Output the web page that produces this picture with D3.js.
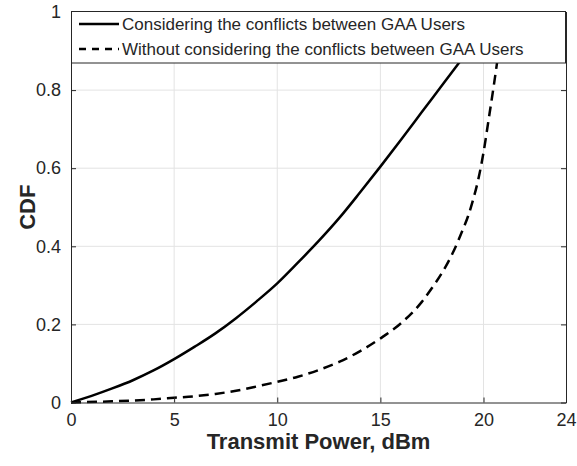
<!DOCTYPE html>
<html>
<head>
<meta charset="utf-8">
<script src="https://cdn.jsdelivr.net/npm/d3@7"></script>
<style>
  body { margin: 0; background: #fff; }
  text { font-family: "Liberation Sans", Arial, Helvetica, sans-serif; fill: #262626; }
</style>
</head>
<body>
<svg width="577" height="466"></svg>
<script>
// CDF of transmit power
var powerWith = [0, 1, 2, 3, 4, 5, 6, 7, 8, 9, 10, 11, 12, 13, 14, 15, 16, 17, 18, 19, 20, 20.7];
var cdfWith   = [0, 0.017, 0.036, 0.057, 0.082, 0.111, 0.143, 0.177, 0.216, 0.259, 0.305, 0.358, 0.413, 0.472, 0.537, 0.604, 0.673, 0.743, 0.813, 0.883, 0.953, 1.0];

var powerWithout = [0, 2, 4, 5, 6, 7, 8, 9, 10, 11, 12, 13, 14, 15, 16, 17, 17.5, 18, 18.5, 19, 19.25, 19.5, 19.75, 20, 20.25, 20.5, 20.75, 21];
var cdfWithout   = [0, 0.003, 0.008, 0.012, 0.016, 0.022, 0.030, 0.041, 0.053, 0.066, 0.083, 0.104, 0.131, 0.164, 0.203, 0.257, 0.293, 0.333, 0.382, 0.443, 0.477, 0.52, 0.572, 0.64, 0.725, 0.812, 0.905, 1.0];

var seriesNames = ["Considering the conflicts between GAA Users",
                   "Without considering the conflicts between GAA Users"];
var xTicks = [0, 5, 10, 15, 20, 24];
var yTicks = [0, 0.2, 0.4, 0.6, 0.8, 1];

var svg = d3.select("svg");
var mLeft = 71, mRight = 566, mTop = 12, mBottom = 402.5;
var axisColor = "#262626";

var x = d3.scaleLinear().domain([0, 24]).range([mLeft, mRight]);
var y = d3.scaleLinear().domain([0, 1]).range([mBottom, mTop]);

// grid
var grid = svg.append("g").attr("stroke", "#e3e3e3").attr("stroke-width", 1);
xTicks.slice(1, -1).forEach(function(t) {
  grid.append("line").attr("x1", x(t)).attr("x2", x(t)).attr("y1", mTop).attr("y2", mBottom);
});
yTicks.slice(1, -1).forEach(function(t) {
  grid.append("line").attr("x1", mLeft).attr("x2", mRight).attr("y1", y(t)).attr("y2", y(t));
});

// curves
var line = d3.line()
  .x(function(d) { return x(d[0]); })
  .y(function(d) { return y(d[1]); })
  .curve(d3.curveMonotoneX);

var plot = svg.append("g");
plot.append("path")
  .datum(d3.zip(powerWith, cdfWith))
  .attr("d", line)
  .attr("fill", "none").attr("stroke", "#000").attr("stroke-width", 2.5);
plot.append("path")
  .datum(d3.zip(powerWithout, cdfWithout))
  .attr("d", line)
  .attr("fill", "none").attr("stroke", "#000").attr("stroke-width", 2.5)
  .attr("stroke-dasharray", "10,6");

// axes (matlab style box, ticks inward)
var xAxis = d3.axisBottom(x).tickValues(xTicks).tickSizeInner(-5).tickSizeOuter(0).tickPadding(11);
var yAxis = d3.axisLeft(y).tickValues(yTicks).tickSizeInner(-5).tickSizeOuter(0).tickPadding(10)
  .tickFormat(function(d) { return d === 0 || d === 1 ? d : d3.format(".1f")(d); });

var gx = svg.append("g").attr("transform", "translate(0," + mBottom + ")").call(xAxis);
var gy = svg.append("g").attr("transform", "translate(" + mLeft + ",0)").call(yAxis);
svg.append("g").attr("transform", "translate(" + mRight + ",0)")
  .call(d3.axisRight(y).tickValues(yTicks).tickSizeInner(-5).tickSizeOuter(0).tickFormat(""));
svg.append("g").attr("transform", "translate(0," + mTop + ")")
  .call(d3.axisTop(x).tickValues(xTicks).tickSizeInner(-5).tickSizeOuter(0).tickFormat(""));

svg.selectAll(".domain").attr("stroke", axisColor);
svg.selectAll(".tick line").attr("stroke", axisColor);
svg.selectAll(".tick text").style("font-size", "18px").style("font-family", "'Liberation Sans', Arial, sans-serif").attr("fill", axisColor);
gx.selectAll(".tick text").attr("dy", "0.71em");

// labels
svg.append("text")
  .attr("x", (mLeft + mRight) / 2).attr("y", 449)
  .attr("text-anchor", "middle")
  .style("font-size", "22px").style("font-weight", "bold")
  .text("Transmit Power, dBm");
svg.append("text")
  .attr("transform", "translate(35," + (mTop + mBottom) / 2 + ") rotate(-90)")
  .attr("text-anchor", "middle")
  .style("font-size", "22px").style("font-weight", "bold")
  .text("CDF");

// legend
var legend = svg.append("g");
legend.append("rect")
  .attr("x", mLeft + 0.5).attr("y", 11.5).attr("width", mRight - mLeft - 1).attr("height", 51.5)
  .attr("fill", "#fff").attr("stroke", axisColor).attr("stroke-width", 1);
var rows = [{name: seriesNames[0], dash: null, y: 24},
            {name: seriesNames[1], dash: "7,6", y: 49}];
rows.forEach(function(r) {
  legend.append("line")
    .attr("x1", 79).attr("x2", 119).attr("y1", r.y).attr("y2", r.y)
    .attr("stroke", "#000").attr("stroke-width", 2.5)
    .attr("stroke-dasharray", r.dash);
  legend.append("text")
    .attr("x", 122).attr("y", r.y).attr("dy", "0.35em")
    .style("font-size", "17px")
    .text(r.name);
});
</script>
</body>
</html>
